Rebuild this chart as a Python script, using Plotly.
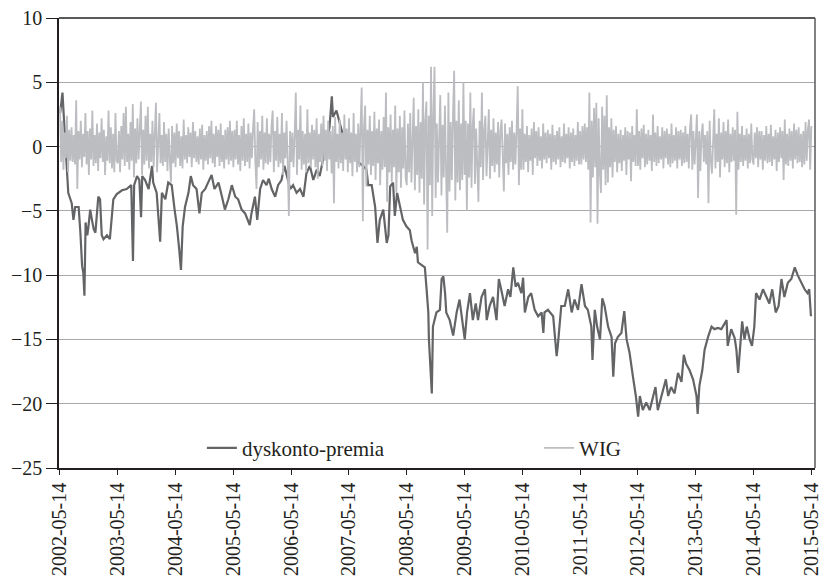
import numpy as np
import plotly.graph_objects as go

# ---- x-axis tick labels (anniversary dates, decimal-year positions) ----
tick_labels = ["2002-05-14", "2003-05-14", "2004-05-14", "2005-05-14", "2006-05-14",
               "2007-05-14", "2008-05-14", "2009-05-14", "2010-05-14", "2011-05-14",
               "2012-05-14", "2013-05-14", "2014-05-14", "2015-05-14"]
tick_pos = [2002.367, 2003.367, 2004.367, 2005.367, 2006.367, 2007.367, 2008.367,
            2009.367, 2010.367, 2011.367, 2012.367, 2013.367, 2014.367, 2015.367]

# ---- dyskonto-premia (decimal years) ----
t_dp = [
    2002.37, 2002.41, 2002.43, 2002.46, 2002.49, 2002.51, 2002.57, 2002.60, 2002.63, 2002.69,
    2002.72, 2002.75, 2002.77, 2002.79, 2002.81, 2002.84, 2002.86, 2002.89, 2002.92, 2002.95,
    2002.98, 2003.00, 2003.03, 2003.06, 2003.09, 2003.12, 2003.18, 2003.23, 2003.26, 2003.29,
    2003.35, 2003.44, 2003.52, 2003.60, 2003.63, 2003.65, 2003.70, 2003.74, 2003.77, 2003.79,
    2003.84, 2003.90, 2003.96, 2003.98, 2004.04, 2004.10, 2004.13, 2004.19, 2004.24, 2004.30,
    2004.35, 2004.39, 2004.43, 2004.46, 2004.49, 2004.53, 2004.59, 2004.63, 2004.67, 2004.73,
    2004.78, 2004.82, 2004.88, 2004.93, 2004.99, 2005.04, 2005.11, 2005.17, 2005.22, 2005.28,
    2005.34, 2005.40, 2005.45, 2005.51, 2005.57, 2005.65, 2005.68, 2005.74, 2005.78, 2005.83,
    2005.88, 2005.94, 2005.98, 2006.03, 2006.09, 2006.14, 2006.20, 2006.25, 2006.29, 2006.35,
    2006.40, 2006.46, 2006.52, 2006.58, 2006.63, 2006.69, 2006.75, 2006.81, 2006.86, 2006.92,
    2006.98, 2007.03, 2007.07, 2007.09, 2007.15, 2007.21, 2007.28, 2007.35, 2007.44, 2007.52,
    2007.61, 2007.67, 2007.70, 2007.76, 2007.82, 2007.86, 2007.90, 2007.96, 2008.02, 2008.05,
    2008.08, 2008.13, 2008.16, 2008.20, 2008.25, 2008.30, 2008.36, 2008.42, 2008.45, 2008.51,
    2008.54, 2008.56, 2008.62, 2008.68, 2008.71, 2008.74, 2008.75, 2008.80, 2008.82, 2008.88,
    2008.94, 2008.97, 2009.00, 2009.03, 2009.05, 2009.11, 2009.17, 2009.23, 2009.28, 2009.33,
    2009.37, 2009.41, 2009.46, 2009.51, 2009.56, 2009.60, 2009.66, 2009.72, 2009.75, 2009.80,
    2009.86, 2009.92, 2009.96, 2010.00, 2010.06, 2010.12, 2010.16, 2010.21, 2010.25, 2010.29,
    2010.35, 2010.38, 2010.41, 2010.47, 2010.52, 2010.58, 2010.64, 2010.70, 2010.73, 2010.75,
    2010.81, 2010.90, 2010.96, 2010.98, 2011.04, 2011.10, 2011.16, 2011.22, 2011.27, 2011.33,
    2011.39, 2011.45, 2011.50, 2011.56, 2011.58, 2011.62, 2011.66, 2011.71, 2011.75, 2011.79,
    2011.85, 2011.91, 2011.94, 2011.97, 2012.02, 2012.08, 2012.13, 2012.17, 2012.22, 2012.28,
    2012.33, 2012.37, 2012.40, 2012.45, 2012.51, 2012.57, 2012.63, 2012.67, 2012.71, 2012.77,
    2012.85, 2012.89, 2012.94, 2013.00, 2013.06, 2013.12, 2013.16, 2013.20, 2013.26, 2013.32,
    2013.38, 2013.40, 2013.43, 2013.48, 2013.52, 2013.58, 2013.64, 2013.69, 2013.75, 2013.81,
    2013.87, 2013.90, 2013.92, 2013.98, 2014.04, 2014.07, 2014.10, 2014.12, 2014.17, 2014.21,
    2014.25, 2014.30, 2014.34, 2014.38, 2014.41, 2014.47, 2014.53, 2014.59, 2014.64, 2014.69,
    2014.75, 2014.80, 2014.85, 2014.90, 2014.96, 2015.02, 2015.08, 2015.13, 2015.19, 2015.25,
    2015.30, 2015.33, 2015.36,
]
v_dp = [
    2.6, 4.2, 2.6, 0.0, -1.8, -3.6, -4.4, -5.7, -4.7, -4.7,
    -6.7, -9.3, -9.8, -11.6, -5.9, -6.9, -6.2, -4.9, -5.7, -6.4,
    -6.7, -5.7, -3.9, -4.1, -6.9, -7.2, -6.9, -7.2, -5.9, -4.1,
    -3.7, -3.4, -3.3, -3.0, -8.9, -3.0, -2.3, -2.6, -5.5, -2.3,
    -2.6, -3.3, -1.5, -2.8, -3.6, -7.4, -3.6, -4.1, -2.8, -3.0,
    -4.9, -6.2, -8.0, -9.6, -6.2, -4.7, -3.6, -2.3, -3.0, -3.3,
    -5.2, -3.6, -3.3, -2.8, -2.2, -3.3, -2.8, -3.9, -4.9, -4.1,
    -3.0, -3.9, -4.1, -4.9, -5.2, -6.1, -5.2, -3.9, -5.7, -3.3,
    -2.6, -3.0, -2.5, -3.3, -3.9, -3.0, -2.6, -1.5, -2.3, -3.3,
    -3.0, -3.6, -3.3, -3.9, -2.1, -1.5, -2.6, -1.8, -2.3, -0.9,
    0.3, 1.5, 3.9, 2.3, 2.8, 1.8, 0.6, -1.0, -0.4, -1.2,
    -1.5, -1.8, -3.0, -3.0, -4.7, -7.5, -5.7, -4.9, -7.5, -6.9,
    -3.1, -2.8, -5.4, -3.6, -4.6, -5.7, -6.2, -6.5, -7.3, -8.3,
    -7.8, -9.0, -9.2, -9.4, -11.1, -12.9, -15.0, -19.2, -14.0, -12.9,
    -12.7, -10.3, -10.1, -11.4, -12.9, -13.5, -14.7, -12.9, -11.9, -13.5,
    -15.0, -12.9, -11.4, -13.5, -12.2, -13.5, -11.7, -11.1, -13.5, -12.4,
    -11.7, -13.5, -10.3, -11.1, -12.4, -11.1, -11.7, -9.4, -10.9, -10.6,
    -11.4, -10.2, -12.9, -11.7, -11.4, -12.7, -13.2, -12.9, -14.5, -12.9,
    -12.7, -13.2, -16.3, -15.5, -12.4, -12.4, -11.1, -12.9, -11.9, -12.7,
    -10.7, -12.4, -12.7, -14.0, -16.6, -12.7, -14.0, -15.0, -11.8, -12.4,
    -14.0, -14.8, -17.9, -15.3, -14.8, -14.5, -12.8, -15.0, -16.0, -17.9,
    -19.4, -21.0, -19.4, -20.5, -19.9, -20.5, -19.4, -18.7, -20.5, -19.4,
    -18.1, -19.4, -18.7, -19.2, -17.6, -18.3, -16.2, -16.9, -17.4, -18.1,
    -19.4, -20.8, -18.6, -17.4, -15.8, -14.8, -14.0, -14.2, -14.1, -14.2,
    -13.7, -13.5, -15.5, -14.2, -14.9, -15.8, -17.6, -16.3, -13.6, -15.0,
    -14.0, -15.0, -15.5, -14.0, -11.4, -11.9, -11.1, -11.7, -12.2, -11.1,
    -12.9, -12.4, -10.3, -11.7, -10.6, -10.3, -9.4, -10.0, -10.6, -11.1,
    -11.4, -11.1, -13.2,
]

# ---- WIG returns (regular sampling, two rows per year) ----
wig = [
    # 2002/03
    3.1, -1.2, 2.0, -1.8, 1.1, -0.9, 2.4, -2.0, 1.3, -1.1, 1.5, -1.2, 0.9, -1.4, 3.6, -3.3, 1.2, -1.0, 2.0, -1.6, 1.0, -0.8, 2.6, -1.4, 1.2,
    -2.2, 1.4, -1.0, 2.8, -1.5, 0.9, -1.3, 1.8, -1.9, 1.1, -0.9, 2.2, -1.2, 1.3, -2.2, 0.8, -1.1, 2.8, -1.3, 1.5, -1.7, 1.0, -2.0, 2.6, -1.1,
    # 2003/04
    -1.3, 1.2, -2.0, 1.6, -1.0, 2.6, -1.5, 3.1, -1.2, 1.0, -1.8, 1.9, -1.1, 3.3, -2.4, 1.4, -1.3, 2.2, -1.0, 1.2, 3.5, -2.2, 1.3, -1.4, 2.4,
    -1.1, 3.1, -1.7, 1.0, -1.2, 2.0, -1.6, 1.2, 3.4, -2.0, 1.1, 2.6, -1.3, 0.9, -1.5, 1.9, -1.2, 1.0, -1.9, 1.4, -1.0, -2.8, 1.6, -1.3, 1.1,
    # 2004/05
    -1.6, 1.8, -0.9, 1.2, -1.5, 0.8, -1.7, 2.1, -1.0, 0.9, -1.3, 1.5, -0.8, 1.1, -1.6, 1.9, -0.9, 1.2, -1.2, 0.8, -1.4, 1.4, -1.0, 1.7, -1.8,
    0.9, -1.1, 1.2, -1.4, 1.6, -0.9, 2.0, -1.3, 1.0, -1.6, 1.6, -0.8, 1.3, -1.5, 1.8, -1.2, 0.9, -1.7, 1.3, -1.0, 1.5, -1.4, 2.0, -1.1, 1.2,
    # 2005/06
    -1.6, 1.3, -1.0, 2.0, -1.4, 0.9, -1.9, 1.6, -1.1, 2.2, -1.5, 1.0, -1.2, 1.8, -1.7, 1.1, -0.9, 1.4, 2.9, -1.2, -3.3, 1.9, -1.6, 1.2, -1.0,
    2.4, -1.8, 1.1, -1.3, 2.2, -1.4, 1.0, -1.2, 1.6, 2.8, -2.0, 1.2, -1.1, 2.3, -1.6, 1.0, -1.3, 2.6, -2.2, 1.1, -0.9, 2.0, -1.4, -5.4, 1.2,
    # 2006/07
    -1.2, 1.1, -1.6, 0.9, 4.2, -2.2, 1.3, -1.0, 3.2, -1.8, 1.2, -1.4, 1.0, -2.0, 2.9, -1.3, 1.1, -1.6, 1.7, -1.0, 1.3, -1.6, 2.2, -2.5, 1.0,
    -1.2, 1.8, -1.5, 2.4, -1.1, 1.3, -1.9, 2.0, -1.0, 1.2, -2.1, 1.6, -4.4, 2.3, -1.2, 1.0, -1.7, 2.1, -1.3, 1.1, -1.9, 2.5, -1.0, 1.4, -2.0,
    # 2007/08
    2.2, -1.3, 1.1, -2.3, 2.6, -1.2, 1.0, -2.0, 1.8, -1.6, 1.2, 4.6, -5.8, 1.5, 3.2, -3.1, 1.3, -1.4, 2.4, -2.2, 1.2, -1.5, 2.7, -2.6, 1.4,
    -1.3, 2.1, -3.0, 1.2, -1.8, 2.3, -1.6, 4.2, -4.3, 1.5, -2.0, 2.5, -2.8, 1.3, -1.6, 3.2, -3.6, 1.4, -2.0, 2.4, -3.2, 1.5, -1.7, 2.8, -2.4,
    # 2008/09
    -3.0, 1.8, -2.0, 2.6, -2.8, 1.5, 3.8, -3.4, 1.6, -2.2, 2.9, -3.6, 1.9, -2.5, 5.0, -4.5, 2.0, 3.5, -8.0, 2.4, -3.0, 6.2, -5.4, 2.6, 6.2,
    -4.0, 1.8, -2.8, 2.2, 4.0, -3.8, 1.7, -2.4, 3.2, -2.0, -6.7, 4.2, -3.5, 1.9, -2.6, 2.4, 5.9, -4.2, 2.0, -2.8, 3.6, -3.4, 1.8, -2.6, 5.0,
    # 2009/10
    -2.2, 2.0, -5.0, 1.8, -2.4, 4.2, -3.2, 1.6, 3.0, -2.9, 1.4, -1.8, -4.3, 2.0, -1.6, 4.2, -2.6, 1.2, 2.4, -2.3, 1.5, 2.9, -2.5, 1.3, -1.5,
    2.2, -2.0, 1.1, -1.4, 1.9, -2.4, 1.2, 2.1, -1.6, -3.5, 1.8, -1.3, 1.0, -2.2, 1.5, -1.2, 2.0, -1.8, 1.1, -1.4, 1.3, 4.7, -3.0, 1.4, -1.8,
    # 2010/11
    2.9, -1.8, 1.0, -1.2, 1.6, -2.0, 0.9, -1.1, 1.4, -2.2, 1.9, -0.9, 1.2, -1.5, 1.5, -1.1, 0.8, -1.7, 1.8, -1.0, 1.1, -1.3, 1.3, -0.9, 1.0,
    -1.8, 1.7, -1.2, 0.9, -1.4, 1.2, -1.0, 1.5, -1.6, 0.8, -1.2, 1.8, -1.3, 1.0, -0.9, 1.5, -1.7, 1.1, -1.2, 1.4, -1.5, 0.9, -1.1, 1.9, -1.4,
    # 2011/12
    1.2, -1.4, 1.6, -1.0, 1.8, -1.2, 1.5, -1.8, 4.2, -5.9, 2.0, -2.4, 3.0, -1.6, 3.4, -6.0, 2.2, -2.0, -3.6, 3.1, -1.8, 2.4, -3.0, 4.0, -2.8,
    1.5, -1.6, 2.2, -2.4, 1.3, -1.2, 1.6, -2.0, 1.0, -1.3, 1.3, -1.9, 0.9, -1.1, 1.5, -2.2, 1.2, -1.0, 1.1, -2.7, 1.6, -1.2, 0.9, -1.5, 2.9,
    # 2012/13
    -1.5, 1.2, -1.8, 1.4, -0.9, 1.7, -1.6, 1.0, -1.4, 1.3, -1.1, 0.9, -1.9, 2.5, -1.2, 1.1, -1.5, 1.6, -1.3, 0.8, -1.0, 1.5, -1.7, 1.2, -0.9,
    1.4, -1.4, 1.0, -1.6, 1.8, -1.3, 0.9, -1.1, 1.5, -1.7, 1.2, -1.0, 1.3, -1.5, 1.1, -1.3, 1.6, -1.2, 1.0, -1.7, 1.4, 2.5, -1.8, 1.2, -1.4,
    # 2013/14
    1.3, 2.5, -4.0, 1.2, -1.9, 1.0, 1.8, -1.2, 0.9, -1.4, 1.2, -4.4, 2.0, -1.1, -2.1, 1.3, 2.9, -1.7, 1.0, -1.2, 2.2, -2.4, 1.1, -1.0, 1.9,
    -1.6, 1.2, -1.3, 2.1, -2.0, 1.0, -1.2, 1.5, -1.1, 1.3, -5.3, 2.7, -1.8, 1.0, -1.2, 1.6, -1.5, 0.9, -1.1, 1.4, -1.7, 1.0, -1.3, 1.8, -1.0,
    # 2014/15
    -1.4, 1.1, -0.9, 1.5, -1.6, 1.2, -1.0, 1.2, -1.8, 0.9, -1.1, 1.6, -1.3, 1.0, -1.2, 1.7, -1.5, 0.8, -1.0, 1.3, -1.9, 1.1, -1.2, 1.5, -0.9,
    1.2, -2.6, 2.1, -1.4, 1.0, -1.5, 1.4, -1.1, 1.2, -1.7, 1.8, -1.0, 1.3, -1.3, 1.5, -1.2, 1.0, -1.6, 1.2, -1.4, 1.9, -1.1, 1.3, 2.1, -1.8, 1.6,
]
wig_start, wig_end = 2002.367, 2015.367
t_wig = np.linspace(wig_start, wig_end, len(wig))

DARK = "#636466"
LIGHT = "#BCBDC0"
FONT = "Liberation Serif, Times New Roman, Times, serif"
TXT = "#231F20"

fig = go.Figure()
fig.add_trace(go.Scatter(x=t_dp, y=v_dp, mode="lines", name="dyskonto-premia",
                         line=dict(color=DARK, width=2.2), legend="legend"))
fig.add_trace(go.Scatter(x=t_wig, y=wig, mode="lines", name="WIG",
                         line=dict(color=LIGHT, width=1.8), legend="legend2"))

legend_common = dict(orientation="h", y=0.044, xanchor="left", yanchor="middle",
                     bgcolor="rgba(0,0,0,0)", borderwidth=0,
                     font=dict(family=FONT, size=21, color=TXT))

fig.update_layout(
    width=821, height=577,
    margin=dict(l=59, r=6, t=18, b=109),
    plot_bgcolor="white", paper_bgcolor="white",
    font=dict(family=FONT, size=20, color=TXT),
    showlegend=True,
    legend=dict(x=0.189, **legend_common),
    legend2=dict(x=0.635, **legend_common),
    xaxis=dict(range=[2002.35, 2015.43], tickmode="array", tickvals=tick_pos,
               ticktext=tick_labels, tickangle=-90, ticks="outside", ticklen=5,
               tickcolor=TXT, tickwidth=1, showline=True, linecolor=TXT,
               linewidth=1.5, showgrid=False, zeroline=False, automargin=False,
               ticklabeloverflow="allow", tickfont=dict(family=FONT, size=20)),
    yaxis=dict(range=[-25, 10], tick0=0, dtick=5, ticks="outside", ticklen=11,
               tickcolor=TXT, tickwidth=1, showline=True, linecolor=TXT,
               linewidth=1.5, showgrid=True, gridcolor="#A7A9AC", gridwidth=1.3,
               zeroline=False, automargin=False, tickfont=dict(family=FONT, size=20)),
    shapes=[
        dict(type="line", xref="paper", yref="paper", x0=0, x1=1, y0=1, y1=1,
             line=dict(color="#58595B", width=1.8)),
        dict(type="line", xref="paper", yref="paper", x0=1, x1=1, y0=0, y1=1,
             line=dict(color="#58595B", width=1.5)),
    ],
)

fig.write_html("out.html", config={"displayModeBar": False},
               post_script="document.body.style.margin='0';document.body.style.padding='0';")
